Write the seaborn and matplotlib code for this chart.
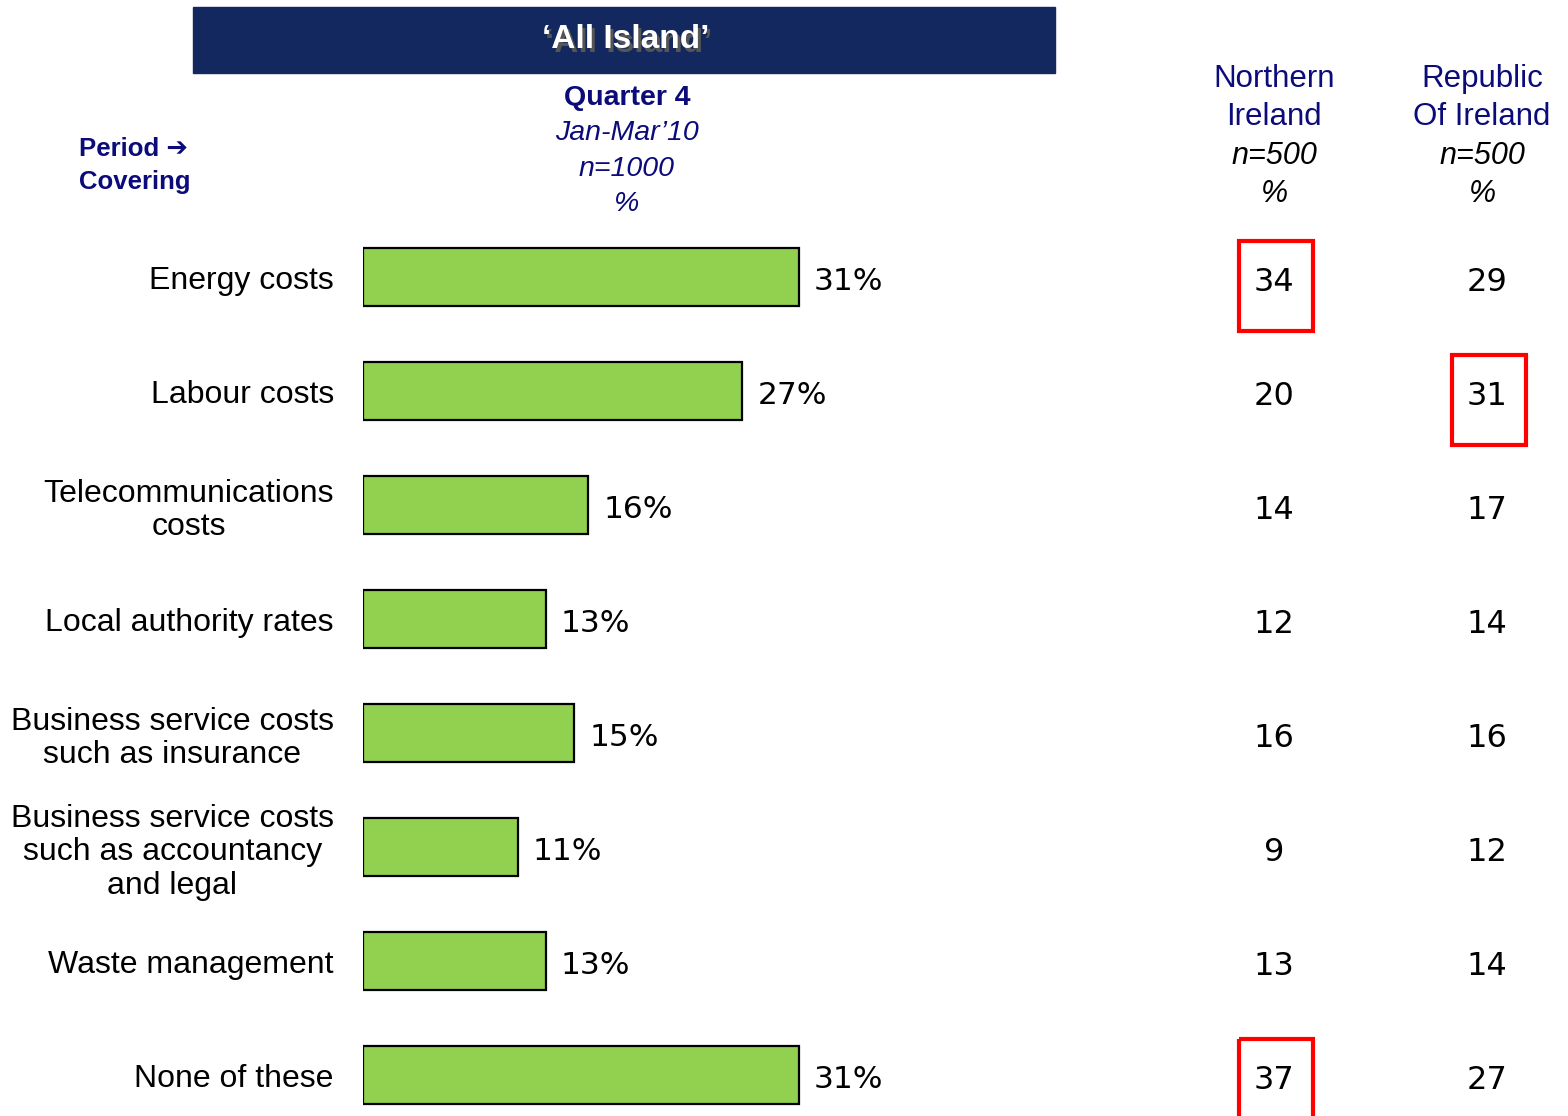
import matplotlib
matplotlib.use("Agg")
import matplotlib.pyplot as plt
import matplotlib.transforms as mtransforms
from matplotlib.patches import Rectangle
import seaborn as sns
import pandas as pd

categories = ["Energy costs", "Labour costs", "Telecommunications\ncosts",
              "Local authority rates", "Business service costs\nsuch as insurance",
              "Business service costs\nsuch as accountancy\nand legal",
              "Waste management", "None of these"]
all_island = [31, 27, 16, 13, 15, 11, 13, 31]
northern_ireland = [34, 20, 14, 12, 16, 9, 13, 37]
republic_ireland = [29, 31, 17, 14, 16, 12, 14, 27]
# cells outlined in red: (column, row)
highlight = [("ni", 0), ("roi", 1), ("ni", 7)]

navy = "#0b0b7a"
green = "#92D050"

sns.set_theme(style="white")
plt.rcParams['font.family'] = ['Liberation Sans', 'DejaVu Sans']

fig = plt.figure(figsize=(15.68, 11.16), dpi=100)
ax = fig.add_axes([363/1568, 1 - 1114.9/1116, 773/1568, 894.9/1116])

df = pd.DataFrame({"cat": categories, "val": all_island})
sns.barplot(data=df, x="val", y="cat", orient="h", color=green, saturation=1,
            edgecolor="black", linewidth=1.6, width=0.51, ax=ax)
ax.set_xlim(0, 55)
ax.set_ylim(7.35, -0.5)
ax.set_xlabel("")
ax.set_ylabel("")
ax.set_xticks([])
for s in ax.spines.values():
    s.set_visible(False)
ax.tick_params(axis="y", length=0, pad=21, labelsize=23, labelcolor="black")
for lab in ax.get_yticklabels():
    lab.set_multialignment("center")
    lab.set_linespacing(1.15)

labels = ax.bar_label(ax.containers[0], fmt="%d%%", padding=11, fontsize=22.5,
                      family="DejaVu Sans", color="black")
for t in labels:
    t.xyann = (11, -3)

# side columns
trans = mtransforms.blended_transform_factory(fig.transFigure, ax.transData)
col_x = {"ni": 1274/1568, "roi": 1487/1568}
for i, (a, b) in enumerate(zip(northern_ireland, republic_ireland)):
    ax.text(col_x["ni"], i + 0.05, str(a), transform=trans, ha="center", va="center",
            fontsize=23, family="DejaVu Sans", color="black")
    ax.text(col_x["roi"], i + 0.05, str(b), transform=trans, ha="center", va="center",
            fontsize=23, family="DejaVu Sans", color="black")
bw = 74/1568
for col, row in highlight:
    ax.add_patch(Rectangle((col_x[col] - bw/2 + 0.001, row - 0.32), bw, 0.79,
                           transform=trans, fill=False, edgecolor="#ff0000",
                           linewidth=3, clip_on=False))

# title banner
fig.patches.append(Rectangle((193/1568, 1 - 73/1116), 862/1568, 66/1116,
                             transform=fig.transFigure, color="#13285E", zorder=0))
fig.text(626/1568 + 0.0015, 1 - 43/1116, "\u2018All Island\u2019", ha="center", va="center",
         fontsize=24, fontweight="bold", color="#555555")
fig.text(626/1568, 1 - 40/1116, "\u2018All Island\u2019", ha="center", va="center",
         fontsize=24, fontweight="bold", color="white")

def ftext(x, y, s, **kw):
    fig.text(x/1568, 1 - y/1116, s, ha="center", va="center", **kw)

# header for bars
ftext(627, 98, "Quarter 4", fontsize=20.5, fontweight="bold", color=navy)
ftext(627, 133, "Jan-Mar\u201910", fontsize=20.5, style="italic", color=navy)
ftext(627, 169, "n=1000", fontsize=20.5, style="italic", color=navy)
ftext(627, 204, "%", fontsize=20.5, style="italic", color=navy)

fig.text(79/1568, 1 - 149/1116, "Period \u2794", ha="left", va="center",
         fontsize=18.5, fontweight="bold", color=navy)
fig.text(79/1568, 1 - 182/1116, "Covering", ha="left", va="center",
         fontsize=18.5, fontweight="bold", color=navy)

# headers for columns
for x, l1, l2 in [(1274, "Northern", "Ireland"), (1482, "Republic", "Of Ireland")]:
    ftext(x, 79, l1, fontsize=22.5, color=navy)
    ftext(x, 117, l2, fontsize=22.5, color=navy)
    ftext(x, 156, "n=500", fontsize=22, style="italic", color="black")
    ftext(x, 194, "%", fontsize=22, style="italic", color="black")

fig.savefig("out.png", dpi=100)
